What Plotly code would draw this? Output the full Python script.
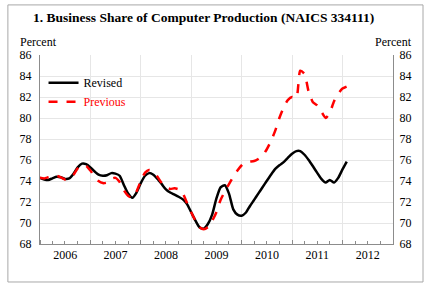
import plotly.graph_objects as go
import pandas as pd

# monthly, Jan 2006 .. Feb 2012
months = pd.date_range("2006-01-01", periods=74, freq="MS")

revised = [
    74.3, 74.15, 74.1, 74.25, 74.4, 74.35, 74.2, 74.25, 74.7, 75.3, 75.65, 75.6,
    75.3, 74.9, 74.6, 74.5, 74.55, 74.75, 74.7, 74.5, 73.6, 72.8, 72.4, 72.9,
    73.8, 74.5, 74.75, 74.6, 74.2, 73.7, 73.2, 72.9, 72.7, 72.5, 72.25, 71.8,
    71.0, 70.2, 69.6, 69.45, 69.9, 70.8, 72.3, 73.4, 73.6, 72.8, 71.3, 70.8,
    70.7, 71.0, 71.6, 72.2, 72.8, 73.4, 74.0, 74.6, 75.15, 75.5, 75.8, 76.2,
    76.6, 76.85, 76.85, 76.5, 76.0, 75.4, 74.8, 74.2, 73.85, 74.1, 73.85, 74.3,
    75.1, 75.85,
]

previous = [
    74.3, 74.25, 74.35, 74.45, 74.5, 74.35, 74.15, 74.2, 74.6, 75.2, 75.5, 75.45,
    75.0, 74.4, 74.0, 73.8, 73.85, 74.2, 74.3, 73.9, 73.1, 72.6, 72.4, 73.0,
    74.0, 74.8, 75.05, 74.9, 74.4, 73.8, 73.4, 73.25, 73.3, 73.2, 72.8, 71.9,
    71.0, 70.2, 69.6, 69.4, 69.6, 70.2, 71.0, 72.2, 73.0, 73.7, 74.4, 75.0,
    75.5, 75.8, 75.85, 75.9, 76.1, 76.4, 77.0, 77.8, 78.8, 80.0, 81.0, 81.7,
    82.0, 81.9, 84.5, 84.2, 82.5, 81.5, 81.2, 80.6, 80.0, 80.5, 81.6, 82.3,
    82.8, 83.0,
]

y_ticks = list(range(68, 87, 2))

FONT = "Liberation Serif, Times New Roman, serif"
GRID = "#e6e6e6"
AXIS = "#8c8c8c"

fig = go.Figure()

fig.add_trace(go.Scatter(
    x=months, y=revised, name="Revised", mode="lines",
    line=dict(color="black", width=2.5, shape="spline", smoothing=0.6),
))
fig.add_trace(go.Scatter(
    x=months, y=previous, name='<span style="color:#ff0000">Previous</span>',
    mode="lines",
    line=dict(color="#ff0000", width=2.5, dash="dash", shape="spline", smoothing=0.6),
))
# invisible trace so the right-hand axis is drawn
fig.add_trace(go.Scatter(
    x=months[:1], y=revised[:1], yaxis="y2", mode="lines",
    line=dict(width=0), showlegend=False, hoverinfo="skip",
))

yaxis_common = dict(
    range=[68, 86], tickvals=y_ticks, showgrid=True, gridcolor=GRID,
    showline=True, linecolor=AXIS, linewidth=1, ticks="", zeroline=False,
    automargin=False,
    tickfont=dict(family=FONT, size=12, color="black"),
)

fig.update_layout(
    width=432, height=288,
    margin=dict(l=40, r=39, t=55, b=44),
    paper_bgcolor="white", plot_bgcolor="white",
    font=dict(family=FONT, size=12, color="black"),
    showlegend=True,
    legend=dict(
        x=0.01, y=0.93, xanchor="left", yanchor="top",
        bgcolor="rgba(0,0,0,0)", font=dict(family=FONT, size=12),
        tracegroupgap=2, itemwidth=30,
    ),
    xaxis=dict(
        type="date", range=["2006-01-01", "2013-01-01"],
        tick0="2006-01-01", dtick="M12", tickformat="%Y",
        ticklabelmode="period", showgrid=True, gridcolor=GRID,
        showline=True, linecolor=AXIS, linewidth=1,
        ticks="inside", ticklen=4, tickcolor=AXIS, automargin=False,
        minor=dict(dtick="M3", ticks="inside", ticklen=3, tickcolor=AXIS, showgrid=False),
        tickfont=dict(family=FONT, size=12, color="black"),
    ),
    yaxis=dict(**yaxis_common, side="left", ticklabelstandoff=5),
    yaxis2=dict(**yaxis_common, side="right", overlaying="y", ticklabelstandoff=3),
)

fig.add_annotation(
    text="<b>1. Business Share of Computer Production (NAICS 334111)</b>",
    xref="paper", yref="paper", x=-0.025, y=1.196,
    xanchor="left", yanchor="middle", showarrow=False,
    font=dict(family=FONT, size=13.5, color="black"),
)
fig.add_annotation(
    text="Percent", xref="paper", yref="paper", x=-0.005, y=1.07,
    xanchor="center", yanchor="middle", showarrow=False,
    font=dict(family=FONT, size=12, color="black"),
)
fig.add_annotation(
    text="Percent", xref="paper", yref="paper", x=1.0, y=1.07,
    xanchor="center", yanchor="middle", showarrow=False,
    font=dict(family=FONT, size=12, color="black"),
)

# outer frame
fig.add_shape(
    type="rect", xref="paper", yref="paper",
    x0=-0.091, x1=1.085, y0=-0.201, y1=1.265,
    line=dict(color="#a8a8a8", width=1), layer="below",
)

# the page body has a default 8px margin; drop it so the figure sits at 0,0
fig.write_html(
    "out.html",
    config={"displayModeBar": False},
    post_script="document.body.style.margin='0';",
)
